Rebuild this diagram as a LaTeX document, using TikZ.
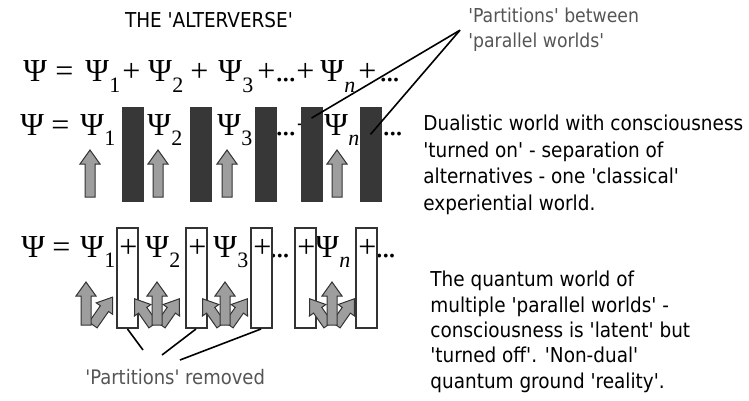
\documentclass[tikz,border=0pt]{standalone}
\usepackage{fontspec}
\usetikzlibrary{calc}
\setmainfont{DejaVu Sans Condensed}[Ligatures=TeXOff]
\newfontfamily\eqfont{Liberation Serif}
\definecolor{barcol}{RGB}{55,55,55}
\definecolor{notegray}{RGB}{85,85,85}
\definecolor{arrgray}{RGB}{158,158,158}

\newcommand{\psisub}[1]{Ψ\kern0.2pt\raisebox{-5.2pt}{\fontsize{11}{11}\selectfont #1}}
\newcommand{\eqdots}{.\kern-0.8pt.\kern-0.8pt.}

\begin{document}
\begin{tikzpicture}[x=0.5pt, y=-0.5pt,
  eqpart/.style={anchor=base west, inner sep=0pt, font=\eqfont\fontsize{16}{19}\selectfont},
  partbar/.style={rectangle, fill=barcol, draw=none, minimum width=11pt, minimum height=47.5pt, inner sep=0pt},
  openbox/.style={rectangle, draw=black!80, line width=1pt, minimum width=10.5pt, minimum height=50pt, inner sep=0pt},
  note/.style={font=\fontsize{9.6}{12.5}\selectfont, text=notegray, align=left},
  body/.style={font=\fontsize{10.25}{13.25}\selectfont, align=left, anchor=north west, inner sep=0pt},
  conn/.style={line width=0.8pt, black},
  uparr/.style={fill=arrgray, draw=black!80, line width=0.5pt},
  pics/fatarrow/.style={code={
    \filldraw[uparr] (-5,0) -- (5,0) -- (5,{14-#1}) -- (10,{14-#1}) -- (0,-#1)
      -- (-10,{14-#1}) -- (-5,{14-#1}) -- cycle;}},
]
  \useasboundingbox (0,0) rectangle (749,401);

  \node[font=\fontsize{10.25}{12}\selectfont, anchor=base, inner sep=0pt] (title) at (209,28) {THE 'ALTERVERSE'};

  % full sum
  \foreach \x/\t [count=\i] in {23/Ψ, 55/=, 85/\psisub{1}, 122/+, 148/\psisub{2}, 190/+, 218/\psisub{3},
      257/+\eqdots+, 320/\psisub{\textit{n}}, 358/+, 379/\eqdots}
    \node[eqpart] (ea\i) at (\x,82) {\t};

  % partitioned sum
  \foreach \x/\t [count=\i] in {20/Ψ, 51/=, 80/\psisub{1}, 124/+, 147/\psisub{2}, 192/+, 217/\psisub{3},
      257/+\eqdots+, 324/\psisub{\textit{n}}, 361/+, 382/\eqdots}
    \node[eqpart] (eb\i) at (\x,135) {\t};
  \foreach \x [count=\i] in {133,201,265.5,311.5,370.5}
    \node[partbar] (bar\i) at (\x,154.5) {};
  \foreach \x in {90,158,227,337}
    \pic at (\x,197) {fatarrow=47};

  % partitions removed
  \foreach \x/\t [count=\i] in {21/Ψ, 52/=, 80/\psisub{1}, 119/+, 145/\psisub{2}, 188/+, 213/\psisub{3},
      253/+, 269/\eqdots, 297/+, 315/\psisub{\textit{n}}, 358/+, 375/\eqdots}
    \node[eqpart] (ec\i) at (\x,257) {\t};
  \foreach \x [count=\i] in {127.5,196,261,305,366}
    \node[openbox] (box\i) at (\x,278) {};

  \pic[rotate=-35] at (93,325) {fatarrow=34};
  \pic at (86,325) {fatarrow=43};
  \foreach \x in {157,225,332} {
    \pic[rotate=35] at (\x-4,325) {fatarrow=32};
    \pic[rotate=-35] at (\x+4,325) {fatarrow=32};
    \pic at (\x,325) {fatarrow=43};
  }

  % labels
  \node[note, anchor=north west, inner xsep=4pt, inner ysep=0pt] (pbw) at (460,8) {'Partitions' between\\'parallel worlds'};
  \draw[conn] (pbw.west) -- ($(bar4.north)!0.12!(bar4.south)$);
  \draw[conn] (pbw.west) -- ($(bar5.north)!0.29!(bar5.south)$);

  \node[note, anchor=north west, inner sep=0pt, font=\fontsize{10}{12}\selectfont] (prm) at (85,369) {'Partitions' removed};
  \coordinate (rm1) at (143,350);
  \coordinate (rm2) at (162,355);
  \coordinate (rm3) at (180,360);
  \draw[conn] (box1.south) -- (rm1);
  \draw[conn] (box2.south) -- (rm2);
  \draw[conn] (box3.south) -- (rm3);

  \node[body] (dual) at (423,115) {Dualistic world with consciousness\\'turned on' - separation of\\alternatives - one 'classical'\\experiential world.};
  \node[body, font=\fontsize{10.25}{12.65}\selectfont] (quant) at (430,271) {The quantum world of\\multiple 'parallel worlds' -\\consciousness is 'latent' but\\'turned off'. 'Non-dual'\\quantum ground 'reality'.};
\end{tikzpicture}
\end{document}
